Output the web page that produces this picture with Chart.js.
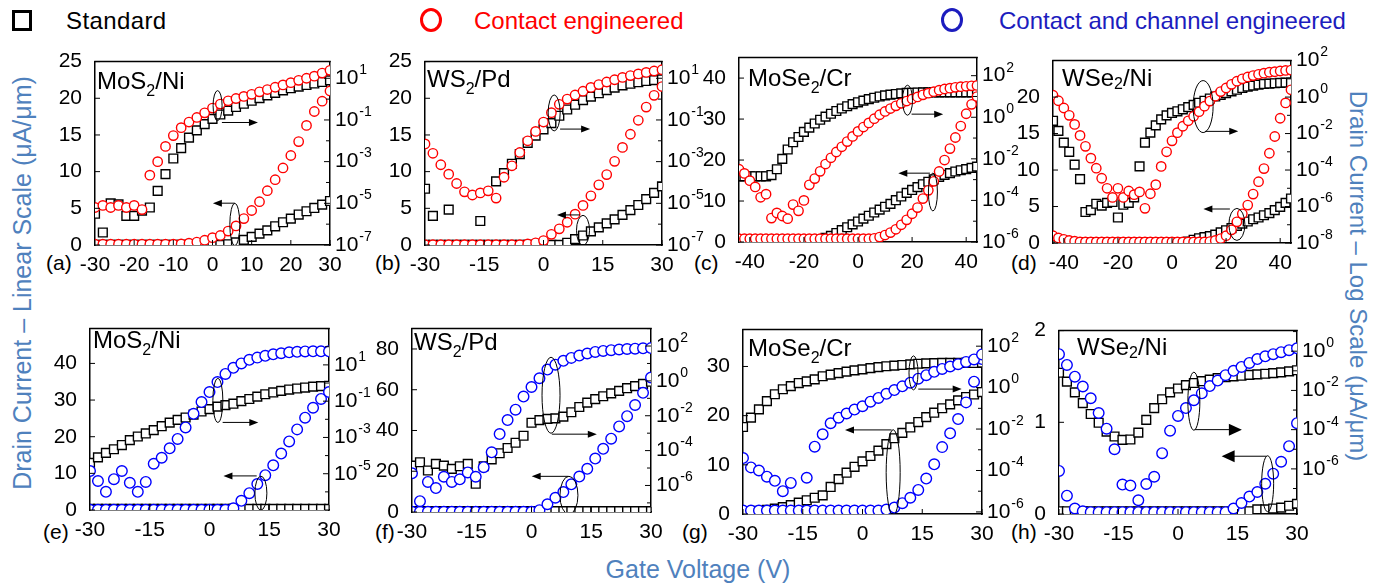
<!DOCTYPE html>
<html>
<head>
<meta charset="utf-8">
<script src="https://cdn.jsdelivr.net/npm/chart.js@4.4.0/dist/chart.umd.min.js"></script>
<style>
  body { margin: 0; width: 1380px; height: 583px; background: #fff; position: relative; overflow: hidden;
         font-family: "Liberation Sans", Arial, sans-serif; }
  canvas { position: absolute; }
  .txt { position: absolute; white-space: nowrap; line-height: 1; }
  .axt { color: #4f81bd; font-size: 25px; }
  .tag { font-size: 21px; color: #000; transform: translateY(-50%); }
  .sq { position: absolute; border: 3px solid #000; width: 14px; height: 15px; }
  .ring { position: absolute; border-radius: 50%; width: 16px; height: 18px; }
</style>
</head>
<body>

<div class="sq" style="left:12px; top:10px;"></div>
<div class="txt" style="left:66px; top:9px; font-size:24px; letter-spacing:0.4px;">Standard</div>
<div class="ring" style="left:420px; top:8px; border:3px solid #ff0000;"></div>
<div class="txt" style="left:474px; top:9px; font-size:24px; color:#ff0000;">Contact engineered</div>
<div class="ring" style="left:941px; top:8px; border:3px solid #1c1cbe;"></div>
<div class="txt" style="left:999px; top:9px; font-size:24px; color:#1c1cbe;">Contact and channel engineered</div>

<div class="txt axt" style="left:22px; top:283px; transform: translate(-50%,-50%) rotate(-90deg);">Drain Current &ndash; Linear Scale (&mu;A/&mu;m)</div>
<div class="txt axt" style="left:1358px; top:276px; font-size:24px; transform: translate(-50%,-50%) rotate(90deg);">Drain Current &ndash; Log Scale (&mu;A/&mu;m)</div>
<div class="txt axt" style="left:698px; top:569px; transform: translate(-50%,-50%);">Gate Voltage (V)</div>

<div class="txt tag" style="left:46px; top:262px;">(a)</div>
<div class="txt tag" style="left:375px; top:262px;">(b)</div>
<div class="txt tag" style="left:694px; top:262px;">(c)</div>
<div class="txt tag" style="left:1011px; top:262px;">(d)</div>
<div class="txt tag" style="left:43px; top:531px;">(e)</div>
<div class="txt tag" style="left:375px; top:531px;">(f)</div>
<div class="txt tag" style="left:682px; top:531px;">(g)</div>
<div class="txt tag" style="left:1011px; top:531px;">(h)</div>

<canvas id="pa"></canvas><canvas id="pb"></canvas><canvas id="pc"></canvas><canvas id="pd"></canvas>
<canvas id="pe"></canvas><canvas id="pf"></canvas><canvas id="pg"></canvas><canvas id="ph"></canvas>

<script>
// gate voltage sweeps (V)
const sweep30 = [-30,-28,-26,-24,-22,-20,-18,-16,-14,-12,-10,-8,-6,-4,-2,0,2,4,6,8,10,12,14,16,18,20,22,24,26,28,30];
const sweep44 = [-44,-42,-40,-38,-36,-34,-32,-30,-28,-26,-24,-22,-20,-18,-16,-14,-12,-10,-8,-6,-4,-2,0,2,4,6,8,10,12,14,16,18,20,22,24,26,28,30,32,34,36,38,40,42,44];

// tick labels
const xTicks10 = [-30,-20,-10,0,10,20,30];
const xTicks15 = [-30,-15,0,15,30];
const xTicks20 = [-40,-20,0,20,40];
const linTicks25 = [0,5,10,15,20,25];
const linTicksC = [0,10,20,30,40];
const linTicksD = [0,5,10,15,20];
const linTicksE = [0,10,20,30,40];
const linTicksF = [0,20,40,60,80];
const linTicksG = [0,5,10,15,20,25,30,35];
const linTicksH = [0,1,2];
const logDecadesAB = [1,-1,-3,-5,-7];
const logDecadesC = [2,0,-2,-4,-6];
const logDecadesD = [2,0,-2,-4,-6,-8];
const logDecadesE = [1,-1,-3,-5];
const logDecadesFG = [2,0,-2,-4,-6];
const logDecadesH = [0,-2,-4,-6];

// drain current, linear (uA/um); log traces kept as decade exponents
// (a) MoS2/Ni
const stdLinA = [0.02,0.02,0.02,0.02,0.02,0.02,0.02,0.02,0.02,0.02,0.02,0.02,0.02,0.02,0.02,0.02,0.02,0.1,0.35,0.7,1.1,1.55,2.0,2.55,3.1,3.6,4.15,4.6,5.05,5.5,6.0];
const stdLogExpA = [-5.5,-6.4,-5.0,-5.05,-5.6,-5.6,-5.35,-5.2,-4.4,-3.6,-2.85,-2.35,-1.85,-1.5,-1.2,-0.95,-0.74,-0.55,-0.38,-0.22,-0.08,0.05,0.18,0.3,0.42,0.52,0.6,0.68,0.75,0.82,0.9];
const engLinA = [0.1,0.1,0.1,0.1,0.1,0.1,0.1,0.1,0.1,0.1,0.1,0.15,0.25,0.4,0.65,1.0,1.3,1.9,2.6,3.6,4.7,5.9,7.4,8.9,10.5,12.2,14.1,16.3,18.2,19.6,21.0];
const engLogExpA = [-5.2,-5.1,-5.2,-5.1,-5.2,-5.1,-5.3,-3.65,-3.0,-2.27,-1.75,-1.37,-1.1,-0.88,-0.66,-0.43,-0.24,-0.08,0.03,0.13,0.23,0.35,0.46,0.57,0.68,0.79,0.9,1.0,1.1,1.25,1.38];

// (b) WS2/Pd
const stdLinB = [0.02,0.02,0.02,0.02,0.02,0.02,0.02,0.02,0.02,0.02,0.02,0.02,0.02,0.02,0.02,0.02,0.02,0.02,0.3,0.8,1.3,1.85,2.4,2.95,3.5,4.1,4.75,5.45,6.25,7.1,8.0];
const stdLogExpB = [-4.3,-5.6,null,-5.3,null,null,null,-5.85,null,-3.95,-3.55,-3.1,-2.64,-2.1,-1.75,-1.45,-1.15,-0.8,-0.5,-0.27,-0.05,0.12,0.28,0.43,0.55,0.66,0.74,0.81,0.87,0.91,0.95];
const engLinB = [0.05,0.05,0.05,0.05,0.05,0.05,0.05,0.05,0.05,0.05,0.05,0.05,0.05,0.15,0.3,0.6,1.45,2.2,3.1,4.2,5.4,6.7,8.2,9.6,11.4,13.3,15.1,17.0,18.8,20.4,21.6];
const engLogExpB = [-2.15,-2.6,-3.15,-3.6,-4.05,-4.45,-4.6,-4.5,-4.4,-4.75,-3.75,-3.2,-2.56,-2.0,-1.55,-1.1,-0.65,-0.25,0.0,0.2,0.38,0.56,0.7,0.82,0.93,1.04,1.13,1.21,1.28,1.35,1.41];

// (c) MoSe2/Cr
const stdLinC = [0.05,0.05,0.05,0.05,0.05,0.05,0.05,0.05,0.05,0.05,0.05,0.05,0.05,0.15,0.3,0.55,1.0,1.5,2.2,2.9,3.6,4.3,5.0,5.7,6.4,7.2,7.9,8.6,9.3,10.2,11.1,12.0,12.7,13.4,14.1,14.7,15.3,15.9,16.4,16.8,17.2,17.5,17.8,18.1,18.4];
const stdLogExpC = [-2.84,-2.84,-2.84,-2.84,-2.84,-2.84,-2.78,-2.5,-2.0,-1.55,-1.2,-0.95,-0.7,-0.5,-0.3,-0.12,0.03,0.17,0.3,0.42,0.53,0.63,0.72,0.8,0.87,0.94,1.0,1.05,1.09,1.12,1.15,1.17,1.18,1.19,1.2,1.2,1.2,1.2,1.2,1.2,1.2,1.2,1.2,1.2,1.2];
const engLinC = [0.8,0.8,0.8,0.8,0.8,0.8,0.8,0.8,0.8,0.8,0.8,0.8,0.8,0.8,0.8,0.8,0.8,0.8,0.8,0.8,0.8,0.8,0.8,0.8,0.8,0.9,1.2,1.7,2.3,3.1,4.2,5.4,6.9,8.4,10.6,12.6,14.8,17.2,20.0,22.8,25.5,28.3,31.3,33.6,35.5];
const engLogExpC = [-2.5,-2.7,-3.05,-3.35,-3.85,-3.7,-4.85,-4.6,-4.75,-4.88,-4.2,-4.5,-4.0,-3.25,-2.95,-2.6,-2.25,-1.95,-1.67,-1.42,-1.17,-0.92,-0.68,-0.47,-0.27,-0.07,0.12,0.28,0.42,0.55,0.67,0.78,0.88,0.98,1.08,1.16,1.23,1.3,1.36,1.4,1.44,1.47,1.49,1.51,1.53];

// (d) WSe2/Ni
const stdLinD = [0.1,0.1,0.1,0.1,0.1,0.1,0.1,0.1,0.1,0.1,0.1,0.1,0.1,0.1,0.1,0.1,0.1,0.1,0.1,0.1,0.1,0.1,0.1,0.1,0.1,0.2,0.45,0.65,0.8,0.95,1.15,1.45,1.75,2.05,2.35,2.65,2.95,3.25,3.5,3.8,4.1,4.5,4.95,5.5,6.1];
const stdLogExpD = [-1.3,-1.85,-2.5,-3.0,-3.7,-4.5,-6.3,-6.2,-5.85,-5.95,-5.8,-5.75,-6.6,-5.9,-5.8,-5.5,-3.8,-2.5,-1.95,-1.55,-1.22,-1.0,-0.87,-0.78,-0.67,-0.55,-0.43,-0.31,-0.2,-0.08,0.03,0.12,0.22,0.31,0.4,0.5,0.57,0.63,0.68,0.72,0.74,0.76,0.78,0.79,0.8];
const engLinD = [1.0,0.7,0.5,0.35,0.25,0.15,0.15,0.15,0.15,0.15,0.15,0.15,0.15,0.15,0.15,0.15,0.15,0.15,0.15,0.15,0.15,0.15,0.15,0.15,0.15,0.15,0.15,0.15,0.15,0.2,0.35,0.6,1.0,1.8,2.9,4.0,5.2,6.7,8.4,10.2,12.3,14.6,17.1,19.2,21.0];
const engLogExpD = [0.1,-0.2,-0.6,-1.0,-1.5,-2.1,-2.7,-3.35,-3.9,-4.45,-5.0,-5.5,-5.0,-5.5,-5.15,-5.35,-5.2,-6.1,-5.3,-4.8,-3.8,-3.0,-2.4,-1.95,-1.6,-1.3,-1.05,-0.8,-0.5,-0.22,0.05,0.3,0.5,0.7,0.87,1.0,1.1,1.18,1.25,1.31,1.36,1.39,1.43,1.46,1.48];

// (e) MoS2/Ni
const stdLinE = [0.3,0.3,0.3,0.3,0.3,0.3,0.3,0.3,0.3,0.3,0.3,0.3,0.3,0.3,0.3,0.3,0.3,0.3,0.3,0.3,0.3,0.3,0.3,0.3,0.3,0.3,0.3,0.3,0.3,0.3,0.3];
const stdLogExpE = [-4.4,-4.1,-3.85,-3.65,-3.42,-3.15,-2.95,-2.78,-2.6,-2.38,-2.18,-2.03,-1.9,-1.74,-1.57,-1.44,-1.3,-1.22,-1.14,-1.0,-0.88,-0.75,-0.62,-0.52,-0.43,-0.36,-0.3,-0.25,-0.2,-0.17,-0.15];
const engLinE = [0.05,0.05,0.05,0.05,0.05,0.05,0.05,0.05,0.05,0.05,0.05,0.05,0.05,0.05,0.05,0.05,0.05,0.05,0.45,2.5,4.6,7.1,9.5,12.2,15.4,18.7,22.0,25.2,27.9,30.3,32.2];
const engLogExpE = [-4.85,-5.4,-6.0,-5.3,-4.85,-5.5,-6.0,-5.45,-4.45,-4.12,-3.6,-3.08,-2.45,-1.7,-1.05,-0.5,0.05,0.5,0.84,1.08,1.28,1.4,1.5,1.58,1.64,1.69,1.72,1.74,1.75,1.75,1.75];

// (f) WS2/Pd
const stdLinF = [0.4,0.4,0.4,0.4,0.4,0.4,0.4,0.4,0.4,0.4,0.4,0.4,0.4,0.4,0.4,0.4,0.4,0.4,0.4,0.4,0.4,0.4,0.4,0.4,0.4,0.4,0.4,0.4,0.4,0.4,0.4];
const stdLogExpF = [-4.86,-4.67,-5.14,-4.76,-4.86,-5.05,-4.9,-4.76,-5.9,-4.9,-4.5,-4.15,-3.85,-3.55,-3.15,-2.4,-2.25,-2.18,-2.15,-2.05,-1.8,-1.5,-1.25,-1.05,-0.88,-0.72,-0.57,-0.42,-0.3,-0.17,-0.05];
const engLinF = [0.1,0.1,0.1,0.1,0.1,0.1,0.1,0.1,0.1,0.1,0.1,0.1,0.1,0.1,0.1,0.1,0.9,3.8,7.0,9.8,13.6,17.4,21.2,26.2,31.0,36.0,42.0,47.0,52.5,58.5,66.0];
const engLogExpF = [-5.3,-6.9,-5.8,-6.15,-5.5,-5.8,-5.65,-5.25,-5.5,-4.95,-4.1,-3.05,-2.25,-1.65,-0.9,-0.35,0.15,0.65,0.93,1.15,1.32,1.45,1.57,1.66,1.72,1.76,1.8,1.83,1.85,1.87,1.88];

// (g) MoSe2/Cr
const stdLinG = [0.4,0.5,0.65,0.85,1.1,1.4,1.8,2.3,2.8,3.3,3.8,5.5,7.1,8.4,9.6,10.7,11.8,12.9,14.2,15.4,16.5,17.6,18.7,19.7,20.6,21.5,22.3,23.1,23.8,24.3,24.8];
const stdLogExpG = [-1.9,-1.45,-1.05,-0.65,-0.32,-0.08,0.07,0.22,0.3,0.4,0.55,0.63,0.7,0.77,0.83,0.88,0.94,0.99,1.03,1.06,1.09,1.12,1.15,1.17,1.18,1.19,1.19,1.19,1.19,1.19,1.19];
const engLinG = [0.7,0.7,0.7,0.7,0.7,0.7,0.7,0.7,0.7,0.7,0.7,0.7,0.7,0.7,0.7,0.7,0.7,0.7,0.9,1.3,2.2,3.3,4.9,7.2,10.1,13.6,16.4,19.3,22.7,26.9,31.5];
const engLogExpG = [-3.4,-3.85,-4.0,-4.3,-4.5,-5.0,-4.6,null,-4.35,-2.85,-2.25,-1.72,-1.45,-1.25,-1.06,-0.9,-0.68,-0.5,-0.3,-0.12,0.06,0.24,0.43,0.6,0.76,0.9,1.02,1.13,1.24,1.36,1.6];

// (h) WSe2/Ni
const stdLinH = [0.03,0.03,0.03,0.03,0.03,0.03,0.03,0.03,0.03,0.03,0.03,0.03,0.03,0.03,0.03,0.03,0.03,0.03,0.03,0.03,0.03,0.03,0.03,0.03,0.03,0.05,0.05,0.06,0.07,0.09,0.11];
const stdLogExpH = [-1.1,-1.55,-2.1,-2.65,-3.2,-3.65,-4.1,-4.35,-4.52,-4.5,-4.15,-3.5,-2.9,-2.45,-2.1,-1.9,-1.73,-1.62,-1.53,-1.45,-1.37,-1.32,-1.28,-1.25,-1.21,-1.18,-1.15,-1.12,-1.08,-1.03,-0.97];
const engLinH = [0.47,0.2,0.06,0.03,0.02,0.02,0.02,0.02,0.02,0.02,0.02,0.02,0.02,0.02,0.02,0.02,0.02,0.02,0.02,0.02,0.02,0.02,0.06,0.12,0.19,0.24,0.33,0.44,0.57,0.74,0.99];
const engLogExpH = [-0.15,-0.7,-1.3,-1.8,-2.4,-3.15,-3.95,-5.0,-6.8,-6.85,-7.6,-6.77,-6.4,-5.2,-4.05,-3.3,-2.9,-2.5,-2.15,-1.78,-1.5,-1.22,-1.0,-0.8,-0.6,-0.4,-0.26,-0.15,-0.05,0.05,0.15];

const FONT = '"Liberation Sans", Arial, sans-serif';
const RED = '#ff0000';
const BLUE = '#0000ff';

// ellipse markers [V, I_lin, rx px, ry px] and arrows [V from, V to, I_lin]
const notes = {
  pa: { rings: [[1.3, 19.0, 4.5, 15], [5.7, 2.8, 5, 21]], arrows: [[2.4, 11.6, 16.7], [5.7, 0.1, 5.7]] },
  pb: { rings: [[2.7, 18.0, 6, 18], [10, 2.0, 6.5, 15]], arrows: [[4.2, 11.8, 15.8], [9.2, 3.4, 4.1]] },
  pc: { rings: [[18.3, 34.6, 5, 15], [27.7, 12.2, 4.5, 19]], arrows: [[19.8, 31.5, 31.2], [26.6, 14.9, 16.8]] },
  pd: { rings: [[11.5, 18.7, 10, 26], [24, 2.55, 8, 16]], arrows: [[12.2, 24.5, 15.3], [21.4, 11.6, 4.66]] },
  pe: { rings: [[2.1, 29.9, 5, 22], [12.9, 4.6, 6, 17]], arrows: [[3.3, 12.25, 23.9], [11.85, 3.5, 9.3]] },
  pf: { rings: [[4.9, 57.3, 9, 38], [9.4, 8.2, 9, 19]], arrows: [[5.1, 16.4, 38.2], [9.25, 0.05, 17.5]] },
  pg: { rings: [[12.8, 28.7, 4.5, 17], [7.7, 8.4, 7, 43]], arrows: [[14, 24.9, 25.4], [7.3, -4.4, 17.1]] },
  ph: { rings: [[4.0, 1.23, 6, 29], [22.6, 0.33, 6, 28]], arrows: [[4.3, 16.1, 0.92], [22.35, 11, 0.63]], bigHead: true }
};

const panels = [
  { id: 'pa', box: [95, 58, 330, 245], volts: sweep30, xMin: -30, xMax: 30, xTicks: xTicks10, linMax: 25, linTicks: linTicks25,
    logMin: -7, logMax: 1.8, decades: logDecadesAB, std: [stdLinA, stdLogExpA], eng: [engLinA, engLogExpA], color: RED, r: 4.7,
    title: ['MoS', '2', '/Ni'], tpos: [2, 27, 7] },
  { id: 'pb', box: [425, 58, 662, 245], volts: sweep30, xMin: -30, xMax: 30, xTicks: xTicks15, linMax: 25, linTicks: linTicks25,
    logMin: -7, logMax: 1.8, decades: logDecadesAB, std: [stdLinB, stdLogExpB], eng: [engLinB, engLogExpB], color: RED, r: 4.7,
    title: ['WS', '2', '/Pd'], tpos: [2, 25, 7] },
  { id: 'pc', box: [739, 54, 977, 242], volts: sweep44, xMin: -44, xMax: 44, xTicks: xTicks20, linMax: 45, linTicks: linTicksC,
    logMin: -6, logMax: 2.87, decades: logDecadesC, std: [stdLinC, stdLogExpC], eng: [engLinC, engLogExpC], color: RED, r: 4.7,
    title: ['MoSe', '2', '/Cr'], tpos: [9, 28, 7] },
  { id: 'pd', box: [1053, 57, 1291, 243], volts: sweep44, xMin: -44, xMax: 44, xTicks: xTicks20, linMax: 25, linTicks: linTicksD,
    logMin: -8, logMax: 2, decades: logDecadesD, std: [stdLinD, stdLogExpD], eng: [engLinD, engLogExpD], color: RED, r: 4.7,
    title: ['WSe', '2', '/Ni'], tpos: [9, 25, 3] },
  { id: 'pe', box: [90, 325, 329, 510], volts: sweep30, xMin: -30, xMax: 30, xTicks: xTicks15, linMax: 49.5, linTicks: linTicksE,
    logMin: -7, logMax: 3, decades: logDecadesE, std: [stdLinE, stdLogExpE], eng: [engLinE, engLogExpE], color: BLUE, r: 5.3,
    title: ['MoS', '2', '/Ni'], tpos: [3, 19, 7] },
  { id: 'pf', box: [412, 325, 651, 512], volts: sweep30, xMin: -30, xMax: 30, xTicks: xTicks15, linMax: 90, linTicks: linTicksF,
    logMin: -7.5, logMax: 3, decades: logDecadesFG, std: [stdLinF, stdLogExpF], eng: [engLinF, engLogExpF], color: BLUE, r: 5.3,
    title: ['WS', '2', '/Pd'], tpos: [2, 21, 7] },
  { id: 'pg', box: [743, 326, 982, 514], volts: sweep30, xMin: -30, xMax: 30, xTicks: xTicks15, linMax: 37.5, linTicks: linTicksG,
    logMin: -6.1, logMax: 2.8, decades: logDecadesFG, std: [stdLinG, stdLogExpG], eng: [engLinG, engLogExpG], color: BLUE, r: 5.3,
    title: ['MoSe', '2', '/Cr'], tpos: [5, 26, 7] },
  { id: 'ph', box: [1059, 327, 1297, 514], volts: sweep30, xMin: -30, xMax: 30, xTicks: xTicks15, linMax: 2, linTicks: linTicksH,
    logMin: -8.3, logMax: 1.05, decades: logDecadesH, std: [stdLinH, stdLogExpH], eng: [engLinH, engLogExpH], color: BLUE, r: 5.3,
    title: ['WSe', '2', '/Ni'], tpos: [18, 24, 3] }
];

const PAD_L = 60, PAD_R = 62, PAD_T = 14, PAD_B = 32;

function points(xs, ys, asLog) {
  return xs.map((v, i) => ({ x: v, y: ys[i] == null ? null : (asLog ? Math.pow(10, ys[i]) : ys[i]) }));
}

// frame top edge, inward ticks, log labels, ellipses/arrows and the material name
function overlay(p) {
  const n = notes[p.id];
  return {
    id: 'overlay',
    afterDatasetsDraw(chart) {
      const { ctx, chartArea: a, scales } = chart;
      ctx.save();
      ctx.beginPath();
      ctx.rect(a.left, a.top, a.right - a.left, a.bottom - a.top);
      ctx.clip();
      ctx.strokeStyle = '#000';
      ctx.fillStyle = '#000';
      ctx.lineWidth = 1;
      n.rings.forEach(([v, i, rx, ry]) => {
        ctx.beginPath();
        ctx.ellipse(scales.x.getPixelForValue(v), scales.yLin.getPixelForValue(i), rx, ry, 0, 0, Math.PI * 2);
        ctx.stroke();
      });
      const hl = n.bigHead ? 13 : 9, hw = n.bigHead ? 6 : 3.5;
      n.arrows.forEach(([v1, v2, i]) => {
        const x1 = scales.x.getPixelForValue(v1), x2 = scales.x.getPixelForValue(v2);
        const y = scales.yLin.getPixelForValue(i);
        const dir = Math.sign(x2 - x1);
        ctx.beginPath();
        ctx.moveTo(x1, y);
        ctx.lineTo(x2 - dir * hl * 0.5, y);
        ctx.stroke();
        ctx.beginPath();
        ctx.moveTo(x2, y);
        ctx.lineTo(x2 - dir * hl, y - hw);
        ctx.lineTo(x2 - dir * hl, y + hw);
        ctx.closePath();
        ctx.fill();
      });
      ctx.restore();
    },
    afterDraw(chart) {
      const { ctx, chartArea: a, scales } = chart;
      ctx.save();
      ctx.strokeStyle = '#000';
      ctx.lineWidth = 1.5;
      ctx.beginPath();
      ctx.moveTo(a.left - 0.75, a.top);
      ctx.lineTo(a.right + 0.75, a.top);
      ctx.stroke();

      ctx.lineWidth = 1;
      ctx.beginPath();
      scales.yLin.ticks.forEach(t => {
        const y = scales.yLin.getPixelForValue(t.value);
        ctx.moveTo(a.left, y); ctx.lineTo(a.left + 5, y);
      });
      scales.x.ticks.forEach(t => {
        const x = scales.x.getPixelForValue(t.value);
        ctx.moveTo(x, a.bottom); ctx.lineTo(x, a.bottom - 5);
      });
      for (let e = Math.ceil(p.logMin); e <= Math.floor(p.logMax); e++) {
        const y = scales.yLog.getPixelForValue(Math.pow(10, e));
        const len = p.decades.includes(e) ? 6 : 4;
        ctx.moveTo(a.right, y); ctx.lineTo(a.right - len, y);
      }
      ctx.stroke();

      // right axis labels 10^n
      ctx.fillStyle = '#000';
      ctx.textAlign = 'left';
      ctx.textBaseline = 'middle';
      p.decades.forEach(e => {
        const y = scales.yLog.getPixelForValue(Math.pow(10, e));
        const x = a.right + 5;
        ctx.font = '21px ' + FONT;
        ctx.fillText('10', x, y);
        const w = ctx.measureText('10').width;
        ctx.font = '14px ' + FONT;
        ctx.fillText(String(e), x + w + 1, y - 8);
      });

      // material / contact name
      const [dx, dy, drop] = p.tpos;
      ctx.textBaseline = 'alphabetic';
      let x = a.left + dx;
      const base = a.top + dy;
      ctx.font = '24px ' + FONT;
      ctx.fillText(p.title[0], x, base);
      x += ctx.measureText(p.title[0]).width;
      ctx.font = '16px ' + FONT;
      ctx.fillText(p.title[1], x, base + drop);
      x += ctx.measureText(p.title[1]).width;
      ctx.font = '24px ' + FONT;
      ctx.fillText(p.title[2], x, base);
      ctx.restore();
    }
  };
}

function buildPanel(p) {
  const [l, t, r, b] = p.box;
  const cv = document.getElementById(p.id);
  cv.width = (r - l) + PAD_L + PAD_R;
  cv.height = (b - t) + PAD_T + PAD_B;
  cv.style.left = (l - PAD_L) + 'px';
  cv.style.top = (t - PAD_T) + 'px';

  const square = { pointStyle: 'rect', pointRadius: 6.2, pointBorderColor: '#000', pointBackgroundColor: '#fff', pointBorderWidth: 1.4 };
  const ring = { pointStyle: 'circle', pointRadius: p.r, pointBorderColor: p.color, pointBackgroundColor: '#fff', pointBorderWidth: 1.4 };

  new Chart(cv.getContext('2d'), {
    type: 'scatter',
    data: {
      datasets: [
        Object.assign({ label: 'Standard (linear)', data: points(p.volts, p.std[0], false), yAxisID: 'yLin', order: 4 }, square),
        Object.assign({ label: 'Standard (log)', data: points(p.volts, p.std[1], true), yAxisID: 'yLog', order: 3 }, square),
        Object.assign({ label: 'Engineered (linear)', data: points(p.volts, p.eng[0], false), yAxisID: 'yLin', order: 2 }, ring),
        Object.assign({ label: 'Engineered (log)', data: points(p.volts, p.eng[1], true), yAxisID: 'yLog', order: 1 }, ring)
      ]
    },
    options: {
      responsive: false,
      animation: false,
      events: [],
      layout: { padding: { top: PAD_T, left: 0, right: 0, bottom: 0 } },
      plugins: { legend: { display: false }, tooltip: { enabled: false } },
      scales: {
        x: {
          type: 'linear', position: 'bottom', min: p.xMin, max: p.xMax,
          grid: { display: false },
          border: { color: '#000', width: 1.5 },
          ticks: { color: '#000', font: { size: 21, family: FONT }, padding: 0, autoSkip: false, maxRotation: 0 },
          afterBuildTicks: s => { s.ticks = p.xTicks.map(v => ({ value: v })); },
          afterFit: s => { s.height = PAD_B; }
        },
        yLin: {
          type: 'linear', position: 'left', min: 0, max: p.linMax,
          grid: { display: false },
          border: { color: '#000', width: 1.5 },
          ticks: { color: '#000', font: { size: 21, family: FONT }, padding: 5 },
          afterBuildTicks: s => { s.ticks = p.linTicks.map(v => ({ value: v })); },
          afterFit: s => { s.width = PAD_L; }
        },
        yLog: {
          type: 'logarithmic', position: 'right', min: Math.pow(10, p.logMin), max: Math.pow(10, p.logMax),
          grid: { display: false },
          border: { color: '#000', width: 1.5 },
          ticks: { display: false },
          afterFit: s => { s.width = PAD_R; }
        }
      }
    },
    plugins: [overlay(p)]
  });
}

panels.forEach(buildPanel);
</script>
</body>
</html>
